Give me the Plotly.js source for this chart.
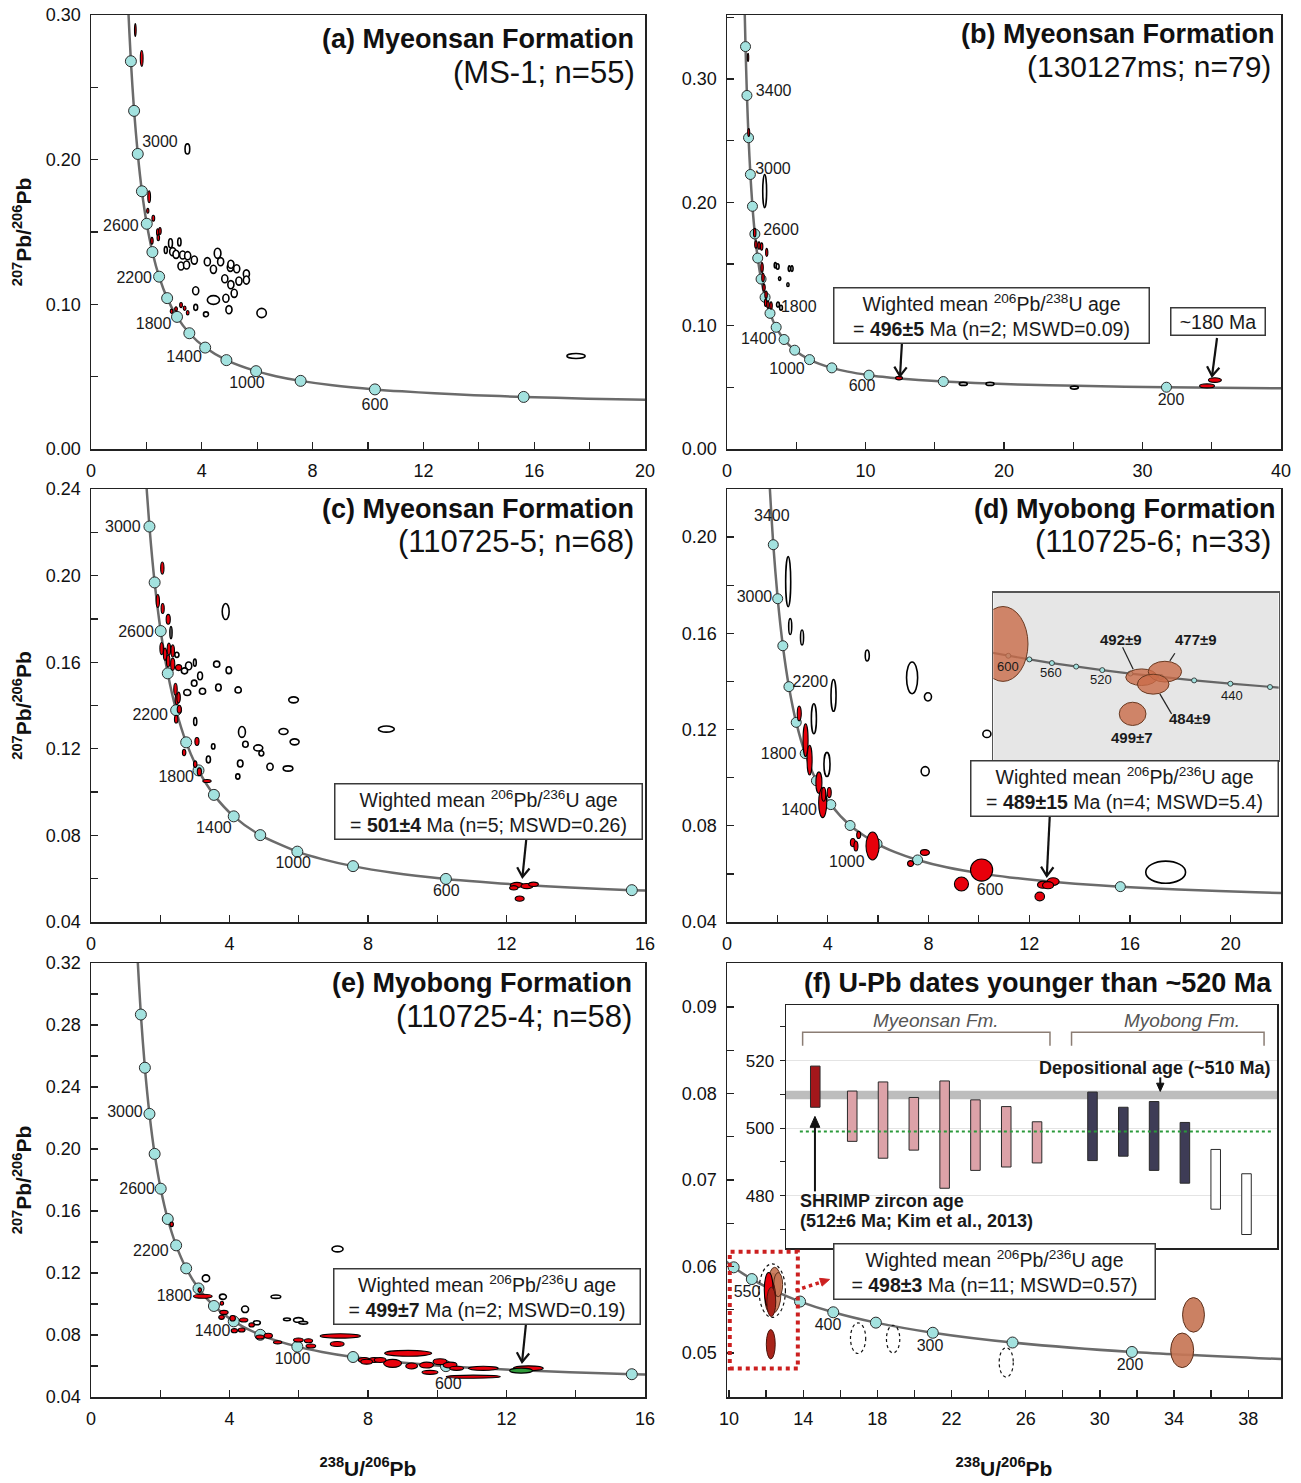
<!DOCTYPE html>
<html><head><meta charset="utf-8">
<script src="https://cdn.plot.ly/plotly-3.0.1.min.js"></script>
<style>html,body{margin:0;padding:0;background:#fff}#chart{width:1301px;height:1483px}</style>
</head><body><div id="chart"></div>
<script>
const FONT = "'Liberation Sans', Arial, Helvetica, sans-serif";
const W = 1301, H = 1483;
const PX = v => v / W, PY = v => 1 - v / H;

// ---- Concordia reference table (ages in Ma, 238U/206Pb, 207Pb/206Pb) ----
const concAges = [150,200,250,300,350,400,450,500,550,600,700,800,900,1000,1200,1400,1600,1800,2000,2200,2400,2600,2800,3000,3200,3400,3600,3800,4000];
const concX = [42.48,31.73,25.29,20.99,17.92,15.62,13.83,12.40,11.23,10.25,8.718,7.568,6.674,5.959,4.888,4.122,3.550,3.105,2.749,2.459,2.217,2.013,1.838,1.688,1.556,1.440,1.337,1.245,1.163];
const concY = [0.04904,0.05011,0.05120,0.05233,0.05350,0.05470,0.05594,0.05722,0.05854,0.05990,0.06275,0.06580,0.06905,0.07250,0.08013,0.08880,0.09872,0.11003,0.12299,0.13783,0.15484,0.17439,0.19684,0.22266,0.25244,0.28675,0.32637,0.37214,0.42503];
// panel (a) concordia as drawn on its printed axis
const concYa = [0.03034,0.03141,0.0325,0.03363,0.0348,0.036,0.03724,0.03852,0.03984,0.0412,0.04405,0.0471,0.05035,0.0538,0.06143,0.0701,0.08002,0.09133,0.10429,0.11913,0.13614,0.15569,0.17814,0.20396,0.23374,0.26805,0.30767,0.35344,0.40633];

const dotAgesA = [400,600,800,1000,1200,1400,1600,1800,2000,2200,2400,2600,2800,3000,3200,3400];
const dotAgesB = [200,400,600,800,1000,1200,1400,1600,1800,2000,2200,2400,2600,2800,3000,3200,3400,3600];
const dotAgesC = [400,600,800,1000,1200,1400,1600,1800,2000,2200,2400,2600,2800,3000];
const dotAgesD = [400,600,800,1000,1200,1400,1600,1800,2000,2200,2400,2600,2800];
const dotAgesE = [400,600,800,1000,1200,1400,1600,1800,2000,2200,2400,2600,2800,3000,3200,3400];
const dotAgesF = [200,250,300,350,400,450,500,550,600];

// ---- age labels ----
const labA = ['3000','2600','2200','1800','1400','1000','600'];
const labAx = [2.49,1.08,1.56,2.26,3.36,5.63,10.25];
const labAy = [0.2115,0.1537,0.1173,0.0857,0.0629,0.0449,0.0297];
const labB = ['3400','3000','2600','1800','1400','1000','600','200'];
const labBx = [3.37,3.32,3.90,5.18,2.29,4.33,9.75,32.06];
const labBy = [0.2898,0.2263,0.1768,0.1141,0.0884,0.0641,0.0505,0.0389];
const labC = ['3000','2600','2200','1800','1400','1000','600'];
const labCx = [0.92,1.30,1.71,2.46,3.55,5.84,10.26];
const labCy = [0.2221,0.1737,0.1352,0.1063,0.0829,0.0668,0.0538];
const labD = ['3400','3000','2200','1800','1400','1000','600'];
const labDx = [1.78,1.09,3.31,2.05,2.86,4.76,10.45];
const labDy = [0.2082,0.1745,0.1393,0.1095,0.0860,0.0645,0.0530];
const labE = ['3000','2600','2200','1800','1400','1000','600'];
const labEx = [0.98,1.33,1.73,2.41,3.51,5.82,10.32];
const labEy = [0.2232,0.1735,0.1337,0.1047,0.0821,0.0639,0.0477];
const labF = ['550','400','300','200'];
const labFx = [10.97,15.34,20.84,31.63];
const labFy = [0.0569,0.0531,0.0507,0.0485];

// ---- error ellipses: centre x, centre y, half-width x, half-height y, kind ----
const aX = [1.60,1.83,3.48,2.10,2.05,2.25,2.41,2.49,2.20,2.43,2.70,2.87,2.95,3.07,3.19,3.31,3.49,3.73,3.25,3.45,4.20,4.42,4.57,4.68,5.03,5.05,5.26,5.61,5.61,4.83,5.05,5.34,5.17,4.87,4.42,3.78,3.78,4.15,4.98,6.16,2.91,3.07,3.25,3.38,3.49,17.51];
const aY = [0.2896,0.2700,0.2074,0.1744,0.1647,0.1595,0.1498,0.1507,0.1440,0.1461,0.1375,0.1422,0.1364,0.1346,0.1431,0.1341,0.1336,0.1306,0.1265,0.1272,0.1295,0.1242,0.1353,0.1295,0.1256,0.1277,0.1246,0.1210,0.1168,0.1177,0.1136,0.1161,0.1076,0.1042,0.1030,0.1094,0.0979,0.0931,0.0963,0.0940,0.0952,0.0968,0.0995,0.0973,0.0942,0.0643];
const aRX = [0.03,0.05,0.085,0.05,0.04,0.05,0.045,0.045,0.045,0.045,0.055,0.07,0.11,0.11,0.06,0.11,0.11,0.11,0.11,0.11,0.11,0.11,0.12,0.11,0.11,0.11,0.11,0.11,0.11,0.11,0.11,0.11,0.11,0.11,0.22,0.11,0.07,0.09,0.11,0.17,0.05,0.05,0.05,0.05,0.05,0.33];
const aRY = [0.0045,0.0055,0.0035,0.0041,0.0017,0.0021,0.0024,0.0024,0.0024,0.0021,0.0024,0.0031,0.0028,0.0028,0.0028,0.0028,0.0028,0.0028,0.0028,0.0028,0.0028,0.0028,0.0035,0.0028,0.0028,0.0028,0.0028,0.0028,0.0028,0.0028,0.0028,0.0028,0.0028,0.0028,0.0030,0.0028,0.0021,0.0017,0.0028,0.0032,0.0015,0.0015,0.0018,0.0015,0.0015,0.0017];
const aK = "rrorrrrrrr" + "oooooooooooooooooooooooooooooo" + "rrrrro";

const bX = [1.52,1.57,2.72,2.00,2.09,2.31,2.50,2.87,2.53,2.60,2.67,2.82,2.79,2.96,3.18,3.68,3.90,3.49,3.66,4.50,4.69,3.80,4.40,12.42,17.06,18.99,25.08,35.23,34.66];
const bY = [0.3176,0.2567,0.2092,0.1754,0.1659,0.1650,0.1642,0.1594,0.1472,0.1390,0.1309,0.1252,0.1187,0.1171,0.1163,0.1171,0.1146,0.1490,0.1480,0.1463,0.1463,0.1382,0.1333,0.0575,0.0528,0.0528,0.0498,0.0559,0.0512];
const bRX = [0.05,0.07,0.14,0.09,0.09,0.09,0.09,0.08,0.09,0.09,0.09,0.09,0.09,0.09,0.09,0.10,0.10,0.08,0.10,0.08,0.08,0.08,0.08,0.25,0.29,0.29,0.29,0.47,0.54];
const bRY = [0.0033,0.0033,0.0134,0.0035,0.0030,0.0030,0.0030,0.0033,0.0040,0.0035,0.0030,0.0030,0.0030,0.0030,0.0030,0.0020,0.0020,0.0022,0.0022,0.0022,0.0022,0.0015,0.0015,0.0014,0.0012,0.0012,0.0012,0.0019,0.0016];
const bK = "rro" + "rrrrrrrrrrrr" + "oooooooo" + "rooorr";

const cX = [2.31,3.89,3.63,3.98,2.82,2.70,3.00,3.15,2.98,3.22,2.78,3.68,4.25,5.85,3.01,4.36,4.46,4.83,4.92,5.56,5.88,3.53,3.39,4.31,5.17,5.69,4.24,8.53,2.48,
            2.06,1.93,2.07,2.23,2.04,2.14,2.25,2.36,2.23,2.36,2.53,2.44,2.48,2.53,2.55,2.46,3.06,2.69,3.01,3.13,3.35,12.30,12.59,12.78,12.21,12.38];
const cY = [0.1737,0.1834,0.1591,0.1563,0.1583,0.1560,0.1598,0.1537,0.1503,0.1466,0.1460,0.1483,0.1472,0.1426,0.1326,0.1278,0.1221,0.1204,0.1179,0.1280,0.1232,0.1211,0.1151,0.1132,0.1117,0.1109,0.1072,0.1291,0.1634,
            0.2035,0.1883,0.1848,0.1798,0.1663,0.1637,0.1660,0.1652,0.1606,0.1591,0.1575,0.1475,0.1429,0.1437,0.1383,0.1337,0.1234,0.1183,0.1129,0.1094,0.1051,0.0571,0.0566,0.0574,0.0558,0.0508];
const cRX = [0.03,0.10,0.09,0.08,0.09,0.09,0.04,0.07,0.08,0.09,0.10,0.08,0.09,0.14,0.045,0.10,0.08,0.13,0.07,0.13,0.13,0.05,0.06,0.08,0.09,0.14,0.06,0.23,0.06,
             0.048,0.048,0.045,0.06,0.05,0.05,0.05,0.05,0.05,0.06,0.09,0.05,0.05,0.05,0.06,0.05,0.06,0.05,0.05,0.06,0.12,0.19,0.17,0.14,0.12,0.13];
const cRY = [0.0028,0.0037,0.0014,0.0016,0.0018,0.0014,0.0016,0.0018,0.0014,0.0014,0.0014,0.0016,0.0014,0.0014,0.0018,0.0025,0.0014,0.0014,0.0012,0.0014,0.0014,0.0012,0.0016,0.0016,0.0016,0.0012,0.0012,0.0014,0.0012,
             0.0028,0.0030,0.0023,0.0023,0.0028,0.0028,0.0028,0.0028,0.0028,0.0028,0.0014,0.0028,0.0025,0.0025,0.0018,0.0018,0.0018,0.0015,0.0015,0.0018,0.0007,0.0012,0.0012,0.0010,0.0010,0.0012];
const cK = "ooooooooooooooooooooooooooooo" + "rrrrrrrrrrrrrrrrrrrrrrrrrr";

const dX = [2.43,2.51,2.98,5.57,7.35,7.98,4.23,3.45,3.97,10.32,7.87,17.42,
            2.87,3.12,3.28,3.65,3.80,3.84,4.06,5.00,5.12,5.23,5.78,7.86,7.29,10.11,9.31,12.55,12.95,12.75,12.42];
const dY = [0.1815,0.1628,0.1583,0.1508,0.1415,0.1336,0.1342,0.1245,0.1055,0.1182,0.1027,0.0607,
            0.1267,0.1156,0.1073,0.0979,0.0896,0.0931,0.0938,0.0730,0.0716,0.0762,0.0716,0.0689,0.0643,0.0616,0.0558,0.0555,0.0568,0.0553,0.0506];
const dRX = [0.10,0.06,0.06,0.08,0.22,0.14,0.10,0.10,0.12,0.16,0.16,0.79,
             0.08,0.10,0.10,0.12,0.16,0.08,0.08,0.10,0.08,0.08,0.26,0.18,0.12,0.44,0.28,0.22,0.24,0.22,0.19];
const dRY = [0.0104,0.0033,0.0031,0.0023,0.0066,0.0017,0.0066,0.0062,0.0050,0.0015,0.0019,0.0046,
             0.0031,0.0068,0.0062,0.0045,0.0062,0.0029,0.0021,0.0017,0.0021,0.0015,0.0058,0.0012,0.0012,0.0046,0.0029,0.0015,0.0016,0.0015,0.0018];
const dK = "oooooooooooo" + "rrrrrrrrrrrrrrrrrrr";

const eX = [7.12,3.32,3.81,4.45,5.34,4.79,5.66,5.99,6.13,
            2.33,3.23,3.14,3.78,3.84,3.77,4.09,4.41,4.64,4.14,4.35,4.88,5.12,5.39,5.99,6.28,6.35,7.11,7.20,7.89,8.18,8.71,9.16,7.96,8.35,9.26,9.69,10.08,10.37,9.79,11.04,10.56,11.33,12.63,
            12.42];
const eY = [0.1355,0.1166,0.1047,0.0966,0.1047,0.0879,0.0901,0.0897,0.0879,
            0.1514,0.1050,0.1090,0.1005,0.0946,0.0914,0.0908,0.0897,0.0865,0.0828,0.0832,0.0787,0.0795,0.0753,0.0768,0.0763,0.0729,0.0742,0.0794,0.0639,0.0639,0.0617,0.0682,0.0628,0.0639,0.0600,0.0606,0.0628,0.0606,0.0559,0.0531,0.0585,0.0585,0.0585,
            0.0570];
const eRX = [0.16,0.105,0.10,0.10,0.14,0.10,0.10,0.14,0.13,
             0.05,0.27,0.05,0.05,0.12,0.08,0.08,0.12,0.08,0.09,0.10,0.12,0.12,0.12,0.14,0.12,0.14,0.20,0.58,0.17,0.15,0.26,0.68,0.17,0.17,0.17,0.20,0.20,0.20,0.23,0.78,0.20,0.43,0.43,
             0.33];
const eRY = [0.0019,0.0022,0.0017,0.0021,0.0011,0.0013,0.0009,0.0015,0.0009,
             0.0015,0.0013,0.0015,0.0013,0.0013,0.0013,0.0018,0.0013,0.0013,0.0013,0.0013,0.0013,0.0016,0.0010,0.0013,0.0013,0.0013,0.0016,0.0014,0.0016,0.0016,0.0026,0.0019,0.0016,0.0016,0.0019,0.0019,0.0019,0.0019,0.0013,0.0010,0.0013,0.0013,0.0016,
             0.0016];
const eK = "ooooooooo" + "rrrrrrrrrrrrrrrrrrrrrrrrrrrrrrrrrr" + "g";

const fX = [12.37,12.46,12.65,12.22,12.14,12.28,12.25,35.05,34.44,12.33,16.96,18.85,24.95];
const fY = [0.0569,0.0582,0.0579,0.0565,0.0573,0.0559,0.0510,0.0544,0.0503,0.0572,0.0517,0.0516,0.0489];
const fRX = [0.43,0.33,0.24,0.29,0.24,0.24,0.24,0.59,0.62,0.71,0.41,0.36,0.38];
const fRY = [0.0023,0.0017,0.0014,0.0019,0.0020,0.0017,0.0017,0.0020,0.0020,0.0031,0.00177,0.0016,0.0017];
const fK = "bbbdrddbbkkkk";

// ---- inset of (d): concordia 620-400 Ma and four youngest grains ----
const insAges = [620,600,580,560,540,520,500,480,460,440,420,400];
const insX = [9.905,10.252,10.622,11.019,11.445,11.904,12.399,12.936,13.520,14.157,14.854,15.62];
const insY = [0.06046,0.05990,0.05935,0.05880,0.05827,0.05774,0.05722,0.05670,0.05619,0.05569,0.05519,0.05470];
const insLab = ['600','560','520','440'];
const insLabX = [10.246,11.002,11.881,14.183];
const insLabY = [0.05822,0.05732,0.05626,0.05385];
const gX = [10.158,12.596,13.006,12.80,12.438];
const gY = [0.06168,0.05667,0.05751,0.05562,0.05115];
const gRX = [0.44,0.278,0.293,0.278,0.235];
const gRY = [0.00564,0.00125,0.00156,0.0015,0.00175];
const gK = "iiiii";
const gLab = ['492±9','477±9','484±9','499±7'];
const gLabX = [12.232,13.55,13.445,12.426];
const gLabY = [0.06228,0.06228,0.05039,0.04753];

// ---- inset of (f): 206Pb/238U ages younger than ~520 Ma ----
const sampleX = [0.8,2,3,4,5,6,7,8,9.8,10.8,11.8,12.8,13.8,14.8];
const ageHigh = [518.4,511.0,513.7,509.1,514.0,508.4,506.4,501.9,510.7,506.2,507.9,501.7,493.7,486.5];
const ageLow  = [506.2,496.1,491.1,493.5,482.2,487.5,488.5,489.7,490.4,491.7,487.5,483.7,476.0,468.5];
const sampleGroup = ['S','M','M','M','M','M','M','M','B','B','B','B','W','W'];
const depositionalAge = [508.6, 511.1];
const weightedMean = 499;

// ---------------- build ----------------
const STY = {
  o: {fill:'#ffffff', line:'#000000', w:1.6, dash:'solid'},
  r: {fill:'#e8000b', line:'#000000', w:1.1, dash:'solid'},
  g: {fill:'#2f9a3a', line:'#000000', w:1.1, dash:'solid'},
  b: {fill:'rgba(199,118,86,0.92)', line:'#5b301c', w:1, dash:'solid'},
  d: {fill:'#a8241a', line:'#4a140c', w:1, dash:'solid'},
  k: {fill:'rgba(0,0,0,0)', line:'#111111', w:1.2, dash:'dot'},
  i: {fill:'rgba(201,108,72,0.8)', line:'#6a3a22', w:1, dash:'solid'}
};
const shapes = [];
function addEllipses(xr, yr, X, Y, RX, RY, K) {
  for (let i = 0; i < X.length; i++) {
    const s = STY[K[i]];
    shapes.push({type:'circle', xref:xr, yref:yr, x0:X[i]-RX[i], x1:X[i]+RX[i], y0:Y[i]-RY[i], y1:Y[i]+RY[i],
      fillcolor:s.fill, line:{color:s.line, width:s.w, dash:s.dash}, layer:'above'});
  }
}

const traces = [];
function concordia(xa, ya, X, Y, ages, dotAges, size) {
  traces.push({x:X, y:Y, xaxis:xa, yaxis:ya, mode:'lines', line:{color:'#6b6b6b', width:2.5, shape:'spline', smoothing:0.7}, hoverinfo:'skip'});
  const dx = [], dy = [];
  dotAges.forEach(a => { const k = ages.indexOf(a); dx.push(X[k]); dy.push(Y[k]); });
  traces.push({x:dx, y:dy, xaxis:xa, yaxis:ya, mode:'markers', marker:{size:size, color:'#a3e2df', line:{color:'#2b2b2b', width:1}}, hoverinfo:'skip'});
}
concordia('x','y', concX, concYa, concAges, dotAgesA, 11);
concordia('x2','y2', concX, concY, concAges, dotAgesB, 10);
concordia('x3','y3', concX, concY, concAges, dotAgesC, 11);
concordia('x4','y4', concX, concY, concAges, dotAgesD, 10);
concordia('x5','y5', concX, concY, concAges, dotAgesE, 11);
concordia('x6','y6', concX, concY, concAges, dotAgesF, 11);
// inset d
traces.push({x:insX, y:insY, xaxis:'x7', yaxis:'y7', mode:'lines+markers', line:{color:'#666', width:2.2},
  marker:{size:5, color:'#a3e2df', line:{color:'#222', width:0.8}}, hoverinfo:'skip'});
// inset f bars
const grpColor = {S:'#a3171b', M:'#dca2a8', B:'#3e3c56', W:'#ffffff'};
traces.push({type:'bar', x:sampleX, y:ageHigh.map((h,i)=>h-ageLow[i]), base:ageLow, xaxis:'x8', yaxis:'y8', width:0.31,
  marker:{color:sampleGroup.map(g=>grpColor[g]), line:{color:'#2a2a2a', width:1}}, hoverinfo:'skip'});

// concordia age labels as text traces
function ageLabels(xa, ya, T, X, Y, size) {
  traces.push({x:X, y:Y, text:T, xaxis:xa, yaxis:ya, mode:'text', textposition:'middle center', cliponaxis:false,
    textfont:{size:size, color:'#1a1a1a', family:FONT}, hoverinfo:'skip'});
}
ageLabels('x','y', labA, labAx, labAy, 16);
ageLabels('x2','y2', labB, labBx, labBy, 16);
ageLabels('x3','y3', labC, labCx, labCy, 16);
ageLabels('x4','y4', labD, labDx, labDy, 16);
ageLabels('x5','y5', labE, labEx, labEy, 16);
ageLabels('x6','y6', labF, labFx, labFy, 16);

// grey inset background of (d) and band of (f) (below traces)
shapes.push({type:'rect', xref:'x7', yref:'y7', x0:9.988, x1:15.007, y0:0.0442, y1:0.0694, fillcolor:'#e6e6e6', line:{width:0}, layer:'below'});
shapes.push({type:'rect', xref:'x8', yref:'y8', x0:-0.15, x1:15.79, y0:depositionalAge[0], y1:depositionalAge[1], fillcolor:'#bdbdbd', line:{width:0}, layer:'below'});

addEllipses('x','y', aX, aY, aRX, aRY, aK);
addEllipses('x2','y2', bX, bY, bRX, bRY, bK);
addEllipses('x3','y3', cX, cY, cRX, cRY, cK);
addEllipses('x4','y4', dX, dY, dRX, dRY, dK);
addEllipses('x5','y5', eX, eY, eRX, eRY, eK);
addEllipses('x6','y6', fX, fY, fRX, fRY, fK);
addEllipses('x7','y7', gX, gY, gRX, gRY, gK);

// leader lines in inset d
const leadX0 = [12.262,13.181,13.123], leadY0 = [0.06118,0.06028,0.05115];
const leadX1 = [12.448,13.093,12.917], leadY1 = [0.05787,0.05912,0.05416];
for (let i = 0; i < 3; i++) shapes.push({type:'line', xref:'x7', yref:'y7', x0:leadX0[i], y0:leadY0[i], x1:leadX1[i], y1:leadY1[i], line:{color:'#222', width:1.2}, layer:'above'});

// (f) red dotted frame, green mean line, brackets
shapes.push({type:'rect', xref:'x6', yref:'y6', x0:10.04, x1:13.71, y0:0.0482, y1:0.0617, line:{color:'#cc2020', width:4, dash:'dot'}, fillcolor:'rgba(0,0,0,0)', layer:'above'});
shapes.push({type:'line', xref:'x8', yref:'y8', x0:0.30, x1:15.62, y0:weightedMean, y1:weightedMean, line:{color:'#2a9a3a', width:2, dash:'dot'}, layer:'above'});
const brX0 = [0.39, 9.12], brX1 = [8.42, 15.37];
for (let i = 0; i < 2; i++) {
  shapes.push({type:'path', xref:'x8', yref:'y8', path:`M${brX0[i]},524.4 L${brX0[i]},528.4 L${brX1[i]},528.4 L${brX1[i]},524.4`, line:{color:'#8b7d74', width:1.5}, layer:'above'});
}

// ---------------- axes ----------------
function mkAx(d0, d1, range, tick0, dtick, mdtick, fmt, anchor, isY) {
  return {domain: isY ? [PY(d1), PY(d0)] : [PX(d0), PX(d1)], range, anchor,
    tickmode:'linear', tick0, dtick, tickformat:fmt,
    ticks:'inside', ticklen:7, tickwidth:1.3, tickcolor:'#222',
    minor:{tick0, dtick:mdtick, ticks:'inside', ticklen:7, tickwidth:1.3, tickcolor:'#222', showgrid:false},
    showline:true, mirror:true, linecolor:'#222', linewidth:1.5,
    showgrid:false, zeroline:false, fixedrange:true,
    tickfont:{size:18, color:'#111', family:FONT}, ticklabelstandoff:5};
}
const ytitle = {text:'<b><sup>207</sup>Pb/<sup>206</sup>Pb</b>', font:{size:21, color:'#111', family:FONT}, standoff:8};
const xtitle = {text:'<b><sup>238</sup>U/<sup>206</sup>Pb</b>', font:{size:21, color:'#111', family:FONT}, standoff:33};

const layout = {
  width:W, height:H, margin:{l:0, r:0, t:0, b:0}, paper_bgcolor:'#ffffff', plot_bgcolor:'rgba(0,0,0,0)',
  showlegend:false, font:{family:FONT, color:'#111'}, shapes,
  xaxis:  mkAx(91,645,[0,20],0,4,2,'d','y',false),
  yaxis:  Object.assign(mkAx(15,449,[0,0.30],0,0.10,0.05,'.2f','x',true), {title:ytitle}),
  xaxis2: mkAx(727,1281,[0,40],0,10,5,'d','y2',false),
  yaxis2: mkAx(15,449,[0,0.352],0,0.10,0.05,'.2f','x2',true),
  xaxis3: mkAx(91,645,[0,16],0,4,2,'d','y3',false),
  yaxis3: Object.assign(mkAx(489,922,[0.04,0.24],0.04,0.04,0.02,'.2f','x3',true), {title:ytitle}),
  xaxis4: mkAx(727,1281,[0,22],0,4,2,'d','y4',false),
  yaxis4: mkAx(489,922,[0.04,0.22],0.04,0.04,0.02,'.2f','x4',true),
  xaxis5: Object.assign(mkAx(91,645,[0,16],0,4,2,'d','y5',false), {title:xtitle}),
  yaxis5: Object.assign(mkAx(963,1397,[0.04,0.32],0.04,0.04,0.02,'.2f','x5',true), {title:ytitle}),
  xaxis6: Object.assign(mkAx(727,1281,[9.89,39.77],10,4,2,'d','y6',false), {title:xtitle}),
  yaxis6: mkAx(963,1397,[0.0449,0.0951],0.05,0.01,0.005,'.2f','x6',true),
  xaxis7: {domain:[PX(993.3), PX(1278.7)], range:[9.988,15.007], anchor:'y7', showline:true, mirror:true, linecolor:'#555', linewidth:1.5,
           showticklabels:false, ticks:'', showgrid:false, zeroline:false, fixedrange:true},
  yaxis7: {domain:[PY(760), PY(592.7)], range:[0.0442,0.0694], anchor:'x7', showline:true, mirror:true, linecolor:'#555', linewidth:1.5,
           showticklabels:false, ticks:'', showgrid:false, zeroline:false, fixedrange:true},
  xaxis8: {domain:[PX(786), PX(1277)], range:[-0.15,15.79], anchor:'y8', showline:true, mirror:true, linecolor:'#222', linewidth:1.5,
           showticklabels:false, ticks:'', showgrid:false, zeroline:false, fixedrange:true},
  yaxis8: {domain:[PY(1248), PY(1005)], range:[464.5,536.5], anchor:'x8', showline:true, mirror:true, linecolor:'#222', linewidth:1.5,
           tickmode:'array', tickvals:[480,500,520], ticks:'outside', ticklen:5, tickcolor:'#222',
           minor:{tickmode:'array', tickvals:[470,490,510,530], ticks:'outside', ticklen:5, tickcolor:'#222', showgrid:false},
           showgrid:true, gridcolor:'#e4e4e4', gridwidth:1, zeroline:false, fixedrange:true,
           tickfont:{size:17, color:'#111', family:FONT}, ticklabelstandoff:2},
  annotations: []
};
const ann = layout.annotations;

// arrows drawn as shapes (shaft + head), offsets given in screen pixels from the tip
function axScale(ref, isY) {
  const a = layout[(isY ? 'yaxis' : 'xaxis') + ref.slice(1)];
  return (a.domain[1] - a.domain[0]) * (isY ? H : W) / (a.range[1] - a.range[0]);
}
function arrowShape(xr, yr, xt, yt, ax, ay, filled, color, width, dash, headLen) {
  const ux = axScale(xr, false), uy = axScale(yr, true);
  const L = Math.hypot(ax, ay), bx = ax / L, by = ay / L;
  const ang = filled ? 0.42 : 0.6;
  const p = s => { const c = Math.cos(s*ang), sn = Math.sin(s*ang);
    const sx = (bx*c - by*sn) * headLen, sy = (bx*sn + by*c) * headLen;
    return [xt + sx/ux, yt - sy/uy]; };
  const p1 = p(1), p2 = p(-1);
  const shaftEnd = filled ? [xt + bx*headLen*0.8/ux, yt - by*headLen*0.8/uy] : [xt, yt];
  shapes.push({type:'line', xref:xr, yref:yr, x0:xt + ax/ux, y0:yt - ay/uy, x1:shaftEnd[0], y1:shaftEnd[1], line:{color, width, dash}, layer:'above'});
  shapes.push({type:'path', xref:xr, yref:yr, path:`M${p1[0]},${p1[1]} L${xt},${yt} L${p2[0]},${p2[1]}` + (filled ? ' Z' : ''),
    line:{color, width: filled ? 1 : width}, fillcolor: filled ? color : 'rgba(0,0,0,0)', layer:'above'});
}
arrowShape('x2','y2', 12.49, 0.0592, 2, -34, false, '#111', 2.2, 'solid', 11);
arrowShape('x2','y2', 35.02, 0.0592, 5, -38, false, '#111', 2.2, 'solid', 11);
arrowShape('x3','y3', 12.46, 0.0608, 4, -39, false, '#111', 2.2, 'solid', 11);
arrowShape('x4','y4', 12.70, 0.0591, 3, -61, false, '#111', 2.2, 'solid', 11);
arrowShape('x5','y5', 12.45, 0.0626, 4, -39, false, '#111', 2.2, 'solid', 11);
arrowShape('x6','y6', 15.42, 0.0585, -34, 11, true, '#cc2020', 3.5, 'dot', 10);
arrowShape('x8','y8', 12.0, 510.9, 0, -14, true, '#111', 2, 'solid', 9);
arrowShape('x8','y8', 0.79, 503.5, 0, 75, true, '#111', 2, 'solid', 12);

// inset (d) labels drawn above the grain ellipses
insLab.forEach((t,i) => ann.push({xref:'x7', yref:'y7', x:insLabX[i], y:insLabY[i], text:t, showarrow:false, font:{size:13, color:'#1a1a1a', family:FONT}}));
gLab.forEach((t,i) => ann.push({xref:'x7', yref:'y7', x:gLabX[i], y:gLabY[i], text:'<b>'+t+'</b>', showarrow:false, font:{size:15, color:'#1a1a1a', family:FONT}}));

// panel titles
function title(t, rx, cy, size, bold) {
  ann.push({xref:'paper', yref:'paper', x:PX(rx), y:PY(cy), xanchor:'right', yanchor:'middle', showarrow:false,
    text: bold ? '<b>'+t+'</b>' : t, font:{size:size, color:'#111', family:FONT}});
}
title('(a) Myeonsan Formation', 636, 39, 27, true);  title('(MS-1; n=55)', 637, 72, 31, false);
title('(b) Myeonsan Formation', 1277, 34, 27, true); title('(130127ms; n=79)', 1273, 67, 30, false);
title('(c) Myeonsan Formation', 636, 509, 27, true); title('(110725-5; n=68)', 636, 542, 31, false);
title('(d) Myobong Formation', 1277, 509, 27, true);  title('(110725-6; n=33)', 1273, 542, 31, false);
title('(e) Myobong Formation', 634, 983, 27, true);   title('(110725-4; n=58)', 634, 1016, 31, false);
title('(f) U-Pb dates younger than ~520 Ma', 1274, 983, 27, true);

// text boxes
function box(cx, cy, w, text) {
  ann.push({xref:'paper', yref:'paper', x:PX(cx), y:PY(cy), xanchor:'center', yanchor:'middle', showarrow:false, text,
    bgcolor:'#ffffff', bordercolor:'#3a3a3a', borderwidth:1.5, borderpad:2, width:w, font:{size:19.5, color:'#1a1a1a', family:FONT}});
}
const wm238 = 'Wighted mean <sup>206</sup>Pb/<sup>238</sup>U age';
const wm236 = 'Wighted mean <sup>206</sup>Pb/<sup>236</sup>U age';
box(991, 315.5, 310, wm238 + '<br>= <b>496±5</b> Ma (n=2; MSWD=0.09)');
box(1217.5, 321.5, 89, '~180 Ma');
box(488, 811.5, 302, wm236 + '<br>= <b>501±4</b> Ma (n=5; MSWD=0.26)');
box(1124, 788.5, 302, wm236 + '<br>= <b>489±15</b> Ma (n=4; MSWD=5.4)');
box(486.5, 1296.5, 301, wm236 + '<br>= <b>499±7</b> Ma (n=2; MSWD=0.19)');
box(994, 1271.5, 316, wm236 + '<br>= <b>498±3</b> Ma (n=11; MSWD=0.57)');

// inset f texts
ann.push({xref:'x8', yref:'y8', x:4.71, y:531.9, text:'<i>Myeonsan Fm.</i>', showarrow:false, font:{size:19, color:'#555', family:FONT}});
ann.push({xref:'x8', yref:'y8', x:12.69, y:531.9, text:'<i>Myobong Fm.</i>', showarrow:false, font:{size:19, color:'#555', family:FONT}});
ann.push({xref:'x8', yref:'y8', x:11.83, y:517.8, text:'<b>Depositional age (~510 Ma)</b>', showarrow:false, font:{size:18, color:'#1a1a1a', family:FONT}});
ann.push({xref:'x8', yref:'y8', x:0.25, y:478.3, xanchor:'left', text:'<b>SHRIMP zircon age</b>', showarrow:false, font:{size:18, color:'#1a1a1a', family:FONT}});
ann.push({xref:'x8', yref:'y8', x:0.25, y:472.4, xanchor:'left', text:'<b>(512±6 Ma; Kim et al., 2013)</b>', showarrow:false, font:{size:18, color:'#1a1a1a', family:FONT}});

Plotly.newPlot('chart', traces, layout, {staticPlot:true, displayModeBar:false});
</script></body></html>
